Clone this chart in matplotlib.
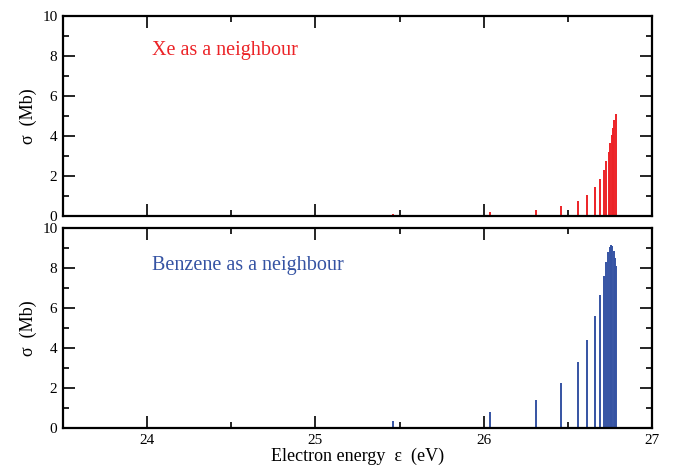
import matplotlib
matplotlib.use("Agg")
import matplotlib.pyplot as plt
from matplotlib.ticker import MultipleLocator

plt.rcParams['font.family'] = ['Liberation Serif', 'DejaVu Serif']
plt.rcParams['mathtext.fontset'] = 'stix'

# Xe neighbour (red) peaks: energy (eV), cross section (Mb)
xe_energy = [23.88, 25.46, 26.04, 26.31, 26.462, 26.558, 26.615, 26.659, 26.689,
             26.713, 26.728, 26.742, 26.752, 26.760, 26.768, 26.776, 26.784]
xe_sigma = [0.03, 0.08, 0.17, 0.30, 0.50, 0.75, 1.05, 1.43, 1.85,
            2.30, 2.75, 3.20, 3.63, 4.05, 4.40, 4.77, 5.10]

# Benzene neighbour (blue) peaks
bz_energy = [23.88, 25.46, 26.04, 26.31, 26.462, 26.558, 26.615, 26.659, 26.689,
             26.713, 26.728, 26.740, 26.748, 26.756, 26.764, 26.772, 26.780, 26.788]
bz_sigma = [0.06, 0.36, 0.78, 1.42, 2.23, 3.29, 4.38, 5.58, 6.63,
            7.58, 8.32, 8.80, 9.05, 9.15, 9.10, 8.85, 8.52, 8.08]

xticks = [24, 25, 26, 27]
xlim = (23.5, 27.0)
ylim = (0, 10)

red = '#ec2327'
blue = '#3553a3'

fig = plt.figure(figsize=(6.79, 4.69), dpi=100)
ax1 = fig.add_axes([0.0928, 0.540, 0.8674, 0.4265])
ax2 = fig.add_axes([0.0928, 0.0874, 0.8674, 0.4265])

for ax, e, s, c, label, ty in [(ax1, xe_energy, xe_sigma, red, 'Xe as a neighbour', 0.825),
                               (ax2, bz_energy, bz_sigma, blue, 'Benzene as a neighbour', 0.81)]:
    ax.vlines(e, 0, s, colors=c, linewidth=1.4)
    ax.set_xlim(*xlim)
    ax.set_ylim(*ylim)
    ax.xaxis.set_major_locator(MultipleLocator(1))
    ax.xaxis.set_minor_locator(MultipleLocator(0.5))
    ax.yaxis.set_major_locator(MultipleLocator(2))
    ax.yaxis.set_minor_locator(MultipleLocator(1))
    ax.tick_params(which='both', direction='in', top=True, right=True, labelsize=11,
                   width=1.2, pad=4)
    ax.tick_params(which='major', length=8.5)
    ax.tick_params(which='minor', length=4.3)
    for sp in ax.spines.values():
        sp.set_linewidth(1.6)
    ax.set_ylabel('σ  (Mb)', fontsize=13)
    ax.yaxis.set_label_coords(-0.045, 0.5)
    ax.text(0.151, ty, label, transform=ax.transAxes, color=c, fontsize=14.5,
            va='center', ha='left')

ax1.tick_params(labelbottom=False)
ax2.set_xticks(xticks)
ax2.set_xticklabels(['24', '25', '26', '27'])
ax2.set_xlabel('Electron energy  ε  (eV)', fontsize=13, labelpad=1)

fig.savefig('out.png', dpi=100)
